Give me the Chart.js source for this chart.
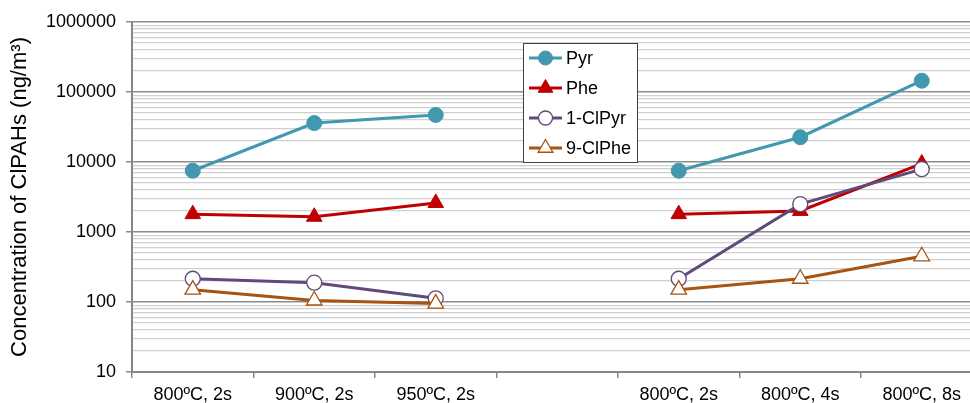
<!DOCTYPE html>
<html>
<head>
<meta charset="utf-8">
<script src="https://cdn.jsdelivr.net/npm/chart.js"></script>
<style>
    html, body { margin: 0; padding: 0; overflow: hidden; background: #fff; }
    #wrap { width: 970px; height: 403px; overflow: hidden; }
</style>
</head>
<body>
<div id="wrap"><canvas id="myChart" width="1000" height="403"></canvas></div>
<script>
// categories (empty slot = gap between the two groups)
var labels = ['800ºC, 2s', '900ºC, 2s', '950ºC, 2s', '', '800ºC, 2s', '800ºC, 4s', '800ºC, 8s'];

// series values (ng/m3)
var pyr   = [7500, 36000, 47000, null, 7500, 22600, 145000];
var phe   = [1800, 1650, 2600, null, 1800, 2000, 9500];
var clPyr = [215, 189, 113, null, 215, 2500, 7900];
var clPhe = [150, 105, 95, null, 150, 215, 450];

// y tick labels (decades)
var yMajor = [10, 100, 1000, 10000, 100000, 1000000];

var FONT = '"Liberation Sans", Arial, sans-serif';

// minor grid lines 2..9 inside each decade
var yTicks = [];
for (var i = 0; i < yMajor.length; i++) {
    yTicks.push(yMajor[i]);
    if (i < yMajor.length - 1) {
        for (var m = 2; m <= 9; m++) yTicks.push(m * yMajor[i]);
    }
}
function isMajor(v) { return yMajor.indexOf(v) >= 0; }

function drawMarker(ctx, style, x, y, r, fill, stroke, lw) {
    ctx.beginPath();
    if (style == 'circle') {
        ctx.arc(x, y, r, 0, Math.PI * 2);
    } else {
        ctx.moveTo(x, y - r);
        ctx.lineTo(x + r * 0.866, y + r / 2);
        ctx.lineTo(x - r * 0.866, y + r / 2);
        ctx.closePath();
    }
    ctx.fillStyle = fill;
    ctx.fill();
    ctx.lineWidth = lw;
    ctx.strokeStyle = stroke;
    ctx.stroke();
}

// legend box sitting inside the plot
var boxLegend = {
    id: 'boxLegend',
    afterDraw: function(chart) {
        var ctx = chart.ctx;
        var x0 = 523, y0 = 43, w = 114, h = 119;
        ctx.save();
        ctx.fillStyle = '#fff';
        ctx.fillRect(x0, y0, w, h);
        ctx.lineWidth = 1;
        ctx.strokeStyle = '#404040';
        ctx.strokeRect(x0 + 0.5, y0 + 0.5, w, h);
        var sets = chart.data.datasets;
        for (var i = 0; i < sets.length; i++) {
            var d = sets[i];
            var yy = y0 + 15 + i * 30;
            ctx.beginPath();
            ctx.moveTo(x0 + 6, yy);
            ctx.lineTo(x0 + 39, yy);
            ctx.lineWidth = d.borderWidth;
            ctx.strokeStyle = d.borderColor;
            ctx.stroke();
            drawMarker(ctx, d.pointStyle, x0 + 22.5, yy, d.pointRadius - 0.5, d.pointBackgroundColor, d.pointBorderColor, d.pointBorderWidth);
            ctx.fillStyle = '#000';
            ctx.font = '18px ' + FONT;
            ctx.textBaseline = 'middle';
            ctx.textAlign = 'left';
            ctx.fillText(d.label, x0 + 43, yy + 1);
        }
        ctx.restore();
    }
};

var myChart = new Chart(document.getElementById('myChart').getContext('2d'), {
    type: 'line',
    data: {
        labels: labels,
        datasets: [{
            label: 'Pyr',
            data: pyr,
            order: 4,
            borderColor: '#4198AF',
            borderWidth: 3,
            pointStyle: 'circle',
            pointRadius: 7.5,
            pointBackgroundColor: '#4198AF',
            pointBorderColor: '#4198AF',
            pointBorderWidth: 1
        }, {
            label: 'Phe',
            data: phe,
            order: 3,
            borderColor: '#C00000',
            borderWidth: 3,
            pointStyle: 'triangle',
            pointRadius: 9,
            pointBackgroundColor: '#C00000',
            pointBorderColor: '#C00000',
            pointBorderWidth: 1
        }, {
            label: '1-ClPyr',
            data: clPyr,
            order: 2,
            borderColor: '#604A7B',
            borderWidth: 3,
            pointStyle: 'circle',
            pointRadius: 7.5,
            pointBackgroundColor: '#fff',
            pointBorderColor: '#604A7B',
            pointBorderWidth: 1.3
        }, {
            label: '9-ClPhe',
            data: clPhe,
            order: 1,
            borderColor: '#A8530F',
            borderWidth: 3,
            pointStyle: 'triangle',
            pointRadius: 9,
            pointBackgroundColor: '#fff',
            pointBorderColor: '#A8530F',
            pointBorderWidth: 1.3
        }]
    },
    options: {
        responsive: false,
        animation: false,
        spanGaps: false,
        layout: { padding: { top: 22, right: 17.5, left: 0, bottom: 0 } },
        plugins: {
            legend: { display: false },
            tooltip: { enabled: false }
        },
        scales: {
            x: {
                offset: true,
                grid: { drawOnChartArea: false, offset: true, tickLength: 6, color: '#868686', lineWidth: 1.5 },
                border: { color: '#868686', width: 2 },
                ticks: { autoSkip: false, maxRotation: 0, padding: 6, color: '#000', font: { family: FONT, size: 18 } },
                afterFit: function(scale) { scale.height = 31; }
            },
            y: {
                type: 'logarithmic',
                min: 10,
                max: 1000000,
                afterBuildTicks: function(scale) {
                    scale.ticks = yTicks.map(function(v) { return { value: v }; });
                },
                afterFit: function(scale) { scale.width = 132; },
                ticks: {
                    autoSkip: false,
                    padding: 10,
                    color: '#000',
                    font: { family: FONT, size: 18 },
                    callback: function(v) { return isMajor(v) ? String(v) : ''; }
                },
                grid: {
                    tickLength: 6,
                    color: function(c) { return c.tick && isMajor(c.tick.value) ? '#8c8c8c' : '#d0d0d0'; },
                    tickColor: function(c) { return c.tick && isMajor(c.tick.value) ? '#8c8c8c' : 'rgba(0,0,0,0)'; },
                    lineWidth: function(c) { return c.tick && isMajor(c.tick.value) ? 1.5 : 1.2; }
                },
                border: { color: '#868686', width: 2 },
                title: {
                    display: true,
                    text: 'Concentration of ClPAHs (ng/m³)',
                    color: '#000',
                    font: { family: FONT, size: 22 },
                    padding: { top: 7, bottom: 0 }
                }
            }
        }
    },
    plugins: [boxLegend]
});
</script>
</body>
</html>
